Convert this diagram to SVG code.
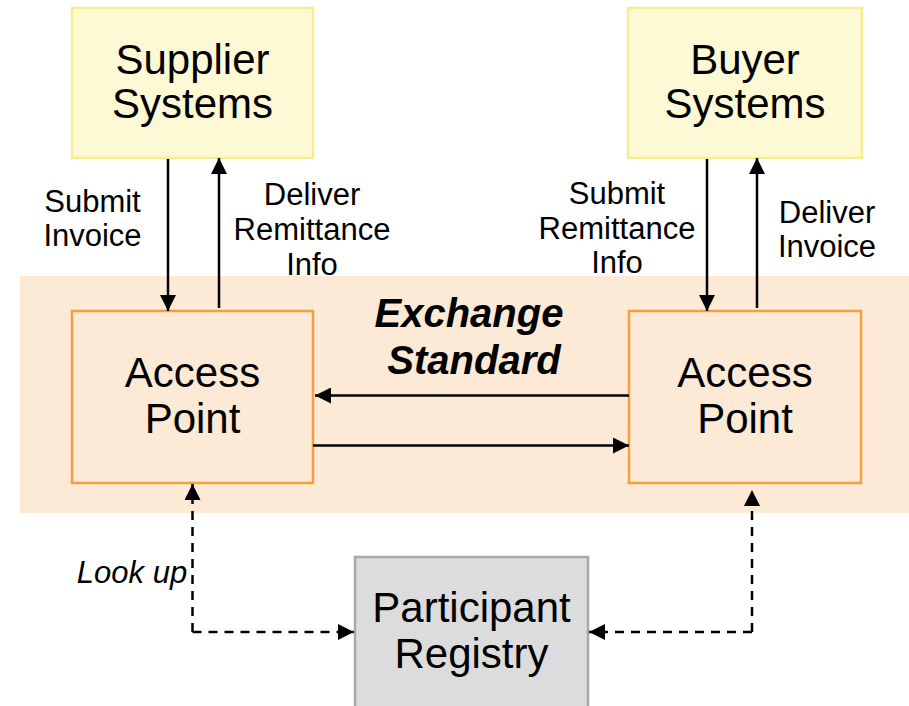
<svg xmlns="http://www.w3.org/2000/svg" width="909" height="706" viewBox="0 0 909 706">
<defs>
<style>
text{font-family:"Liberation Sans",Arial,sans-serif;fill:#000;text-anchor:middle}
.big{font-size:42px}
.lbl{font-size:31px}
.sys{fill:#fdf9d4;stroke:#f6ee8e;stroke-width:2.5}
.ap{fill:#fce9d6;stroke:#f4a03c;stroke-width:2.5}
.reg{fill:#dcdcdc;stroke:#a8a8a8;stroke-width:2.5}
.ln{stroke:#000;stroke-width:2.5;fill:none}
.dash{stroke:#000;stroke-width:2.5;fill:none;stroke-dasharray:9 7}
</style>
<marker id="ah" viewBox="0 0 10 10" refX="10" refY="5" markerUnits="userSpaceOnUse" markerWidth="16" markerHeight="16" orient="auto">
<path d="M0,0 L10,5 L0,10 z" fill="#000"/>
</marker>
</defs>
<rect x="20" y="276" width="889" height="237" fill="#fce9d6"/>
<g id="supplier">
<rect class="sys" x="72" y="8" width="241" height="150"/>
<text class="big" x="192.5" y="74">Supplier</text>
<text class="big" x="192.5" y="118">Systems</text>
</g>
<g id="buyer">
<rect class="sys" x="628" y="8" width="234" height="150"/>
<text class="big" x="745" y="74">Buyer</text>
<text class="big" x="745" y="118">Systems</text>
</g>
<g id="ap-left">
<rect class="ap" x="72" y="311" width="241" height="172"/>
<text class="big" x="192.5" y="387">Access</text>
<text class="big" x="192.5" y="433">Point</text>
</g>
<g id="ap-right">
<rect class="ap" x="629" y="311" width="232" height="172"/>
<text class="big" x="745" y="387">Access</text>
<text class="big" x="745" y="433">Point</text>
</g>
<g id="registry">
<rect class="reg" x="355" y="557" width="233" height="160"/>
<text class="big" x="471.5" y="622">Participant</text>
<text class="big" x="471.5" y="668">Registry</text>
</g>
<g id="exchange-label">
<text x="469" y="327" style="font-size:40px;font-weight:bold;font-style:italic">Exchange</text>
<text x="474" y="374" style="font-size:40px;font-weight:bold;font-style:italic">Standard</text>
</g>
<g id="connectors">
<line class="ln" x1="168" y1="159" x2="168" y2="311" marker-end="url(#ah)"/>
<line class="ln" x1="219" y1="308" x2="219" y2="158" marker-end="url(#ah)"/>
<line class="ln" x1="707" y1="159" x2="707" y2="311" marker-end="url(#ah)"/>
<line class="ln" x1="757" y1="308" x2="757" y2="158" marker-end="url(#ah)"/>
<line class="ln" x1="629" y1="395.5" x2="315" y2="395.5" marker-end="url(#ah)"/>
<line class="ln" x1="313" y1="445.5" x2="629" y2="445.5" marker-end="url(#ah)"/>
<path class="dash" d="M192.5,632 L192.5,484" marker-end="url(#ah)"/>
<path class="dash" d="M192.5,632 L354,632" marker-end="url(#ah)"/>
<path class="dash" d="M752,632 L752,490" marker-end="url(#ah)"/>
<path class="dash" d="M752,632 L589,632" marker-end="url(#ah)"/>
</g>
<g id="labels">
<text class="lbl" x="92.5" y="212">Submit</text>
<text class="lbl" x="92.5" y="246">Invoice</text>
<text class="lbl" x="312" y="205">Deliver</text>
<text class="lbl" x="312" y="240">Remittance</text>
<text class="lbl" x="312" y="275">Info</text>
<text class="lbl" x="617" y="204">Submit</text>
<text class="lbl" x="617" y="239">Remittance</text>
<text class="lbl" x="617" y="273">Info</text>
<text class="lbl" x="827" y="223">Deliver</text>
<text class="lbl" x="827" y="257">Invoice</text>
<text class="lbl" x="132" y="583" style="font-style:italic">Look up</text>
</g>
</svg>
